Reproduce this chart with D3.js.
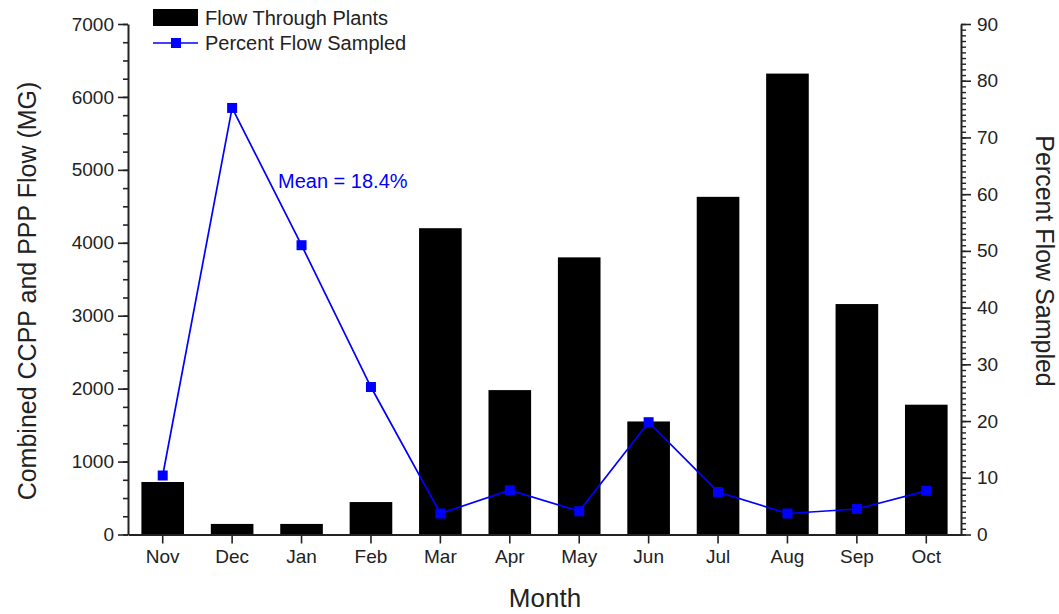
<!DOCTYPE html>
<html>
<head>
<meta charset="utf-8">
<script src="https://cdn.jsdelivr.net/npm/d3@7"></script>
<style>
  html, body { margin: 0; padding: 0; background: #fff; }
  svg { display: block; font-family: "Liberation Sans", Arial, sans-serif; }
</style>
</head>
<body>
<svg id="chart" width="1059" height="614"></svg>
<script>
// Monthly flow through the plants (MG) and the share of that flow that was sampled (%)
const months = ["Nov", "Dec", "Jan", "Feb", "Mar", "Apr", "May", "Jun", "Jul", "Aug", "Sep", "Oct"];
const flowMG = [720, 145, 145, 445, 4200, 1980, 3800, 1550, 4630, 6320, 3160, 1780];
const pctSampled = [10.4, 75.2, 51.0, 26.0, 3.7, 7.8, 4.1, 19.8, 7.5, 3.7, 4.5, 7.7];
const leftTicks = [0, 1000, 2000, 3000, 4000, 5000, 6000, 7000];
const rightTicks = [0, 10, 20, 30, 40, 50, 60, 70, 80, 90];
const meanLabel = "Mean = 18.4%";

const svg = d3.select("#chart");
const m = { left: 128, right: 961, top: 24, bottom: 534.5 };
const ink = "#222";
const blue = "#0000ff";
const tickFont = "19px";
const titleFont = "25px";

const x = d3.scaleBand().domain(months).range([m.left, m.right])
  .paddingInner(0.386).paddingOuter(0.193);
const yL = d3.scaleLinear().domain([0, 7000]).range([m.bottom, m.top]);
const yR = d3.scaleLinear().domain([0, 90]).range([m.bottom, m.top]);

// Bars
svg.append("g").selectAll("rect").data(months).join("rect")
  .attr("x", d => x(d))
  .attr("width", x.bandwidth())
  .attr("y", (d, i) => yL(flowMG[i]))
  .attr("height", (d, i) => yL(0) - yL(flowMG[i]))
  .attr("fill", "#000");

// Percent line + markers
const cx = d => x(d) + x.bandwidth() / 2;
const line = d3.line().x((d, i) => cx(months[i])).y(d => yR(d));
svg.append("path").datum(pctSampled).attr("d", line)
  .attr("fill", "none").attr("stroke", blue).attr("stroke-width", 1.7);
svg.append("g").selectAll("rect").data(pctSampled).join("rect")
  .attr("x", (d, i) => cx(months[i]) - 5)
  .attr("y", d => yR(d) - 5)
  .attr("width", 10).attr("height", 10)
  .attr("fill", blue);

function styleAxis(g) {
  g.select(".domain").attr("stroke", ink).attr("stroke-width", 2);
  g.selectAll(".tick line").attr("stroke", ink).attr("stroke-width", 1.6);
  g.selectAll(".tick text").attr("fill", ink).style("font-size", tickFont)
    .style("font-family", "'Liberation Sans', Arial, sans-serif");
}

// Left axis: minor ticks every 250
const gLminor = svg.append("g").attr("transform", `translate(${m.left},0)`)
  .call(d3.axisLeft(yL).tickValues(d3.range(0, 7001, 250)).tickSize(5).tickFormat("").tickSizeOuter(0));
gLminor.select(".domain").remove();
gLminor.selectAll(".tick line").attr("stroke", ink).attr("stroke-width", 1.6);
const gL = svg.append("g").attr("transform", `translate(${m.left},0)`)
  .call(d3.axisLeft(yL).tickValues(leftTicks).tickSize(10).tickPadding(4).tickSizeOuter(0).tickFormat(d3.format("d")));
styleAxis(gL);

// Right axis: minor ticks every 1
const gRminor = svg.append("g").attr("transform", `translate(${m.right},0)`)
  .call(d3.axisRight(yR).tickValues(d3.range(0, 91, 1)).tickSize(5).tickFormat("").tickSizeOuter(0));
gRminor.select(".domain").remove();
gRminor.selectAll(".tick line").attr("stroke", ink).attr("stroke-width", 1.4);
const gR = svg.append("g").attr("transform", `translate(${m.right},0)`)
  .call(d3.axisRight(yR).tickValues(rightTicks).tickSize(10).tickPadding(6).tickSizeOuter(0));
styleAxis(gR);

// Bottom axis
const gB = svg.append("g").attr("transform", `translate(0,${m.bottom})`)
  .call(d3.axisBottom(x).tickSize(9).tickPadding(6).tickSizeOuter(0));
styleAxis(gB);

// Axis titles
svg.append("text").attr("x", 545).attr("y", 607).attr("text-anchor", "middle")
  .attr("fill", ink).style("font-size", "26px").text("Month");
svg.append("text").attr("transform", "translate(36,291) rotate(-90)").attr("text-anchor", "middle")
  .attr("fill", ink).style("font-size", titleFont).text("Combined CCPP and PPP Flow (MG)");
svg.append("text").attr("transform", "translate(1036,261) rotate(90)").attr("text-anchor", "middle")
  .attr("fill", ink).style("font-size", titleFont).text("Percent Flow Sampled");

// Mean annotation
svg.append("text").attr("x", 278).attr("y", 188).attr("fill", blue)
  .style("font-size", "20px").text(meanLabel);

// Legend
const lg = svg.append("g");
lg.append("rect").attr("x", 153).attr("y", 9).attr("width", 45).attr("height", 17).attr("fill", "#000");
lg.append("text").attr("x", 205).attr("y", 25).attr("fill", ink).style("font-size", "20px").text("Flow Through Plants");
lg.append("line").attr("x1", 153).attr("x2", 198).attr("y1", 43).attr("y2", 43)
  .attr("stroke", blue).attr("stroke-width", 1.7);
lg.append("rect").attr("x", 171).attr("y", 38).attr("width", 10).attr("height", 10).attr("fill", blue);
lg.append("text").attr("x", 205).attr("y", 50).attr("fill", ink).style("font-size", "20px").text("Percent Flow Sampled");
</script>
</body>
</html>
